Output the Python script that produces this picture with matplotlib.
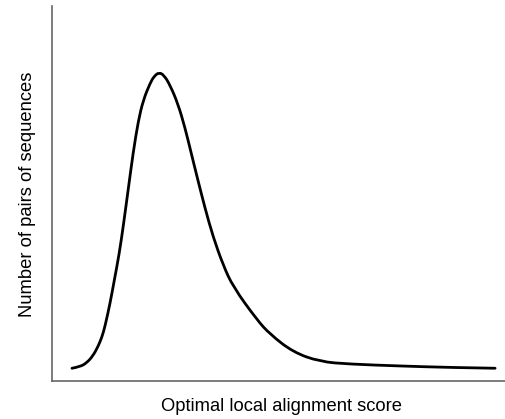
import matplotlib
matplotlib.use("Agg")
import matplotlib.pyplot as plt
from matplotlib.path import Path
from matplotlib.patches import PathPatch

# curve (score axis 0-100, count axis 0-100)
score = [4.4, 6.2, 7.7, 9.0, 10.1, 11.0, 11.7, 12.8, 13.7, 14.8, 15.7,
         16.8, 17.9, 19.0, 20.1, 21.6, 22.5, 23.6, 24.7, 26.0, 27.75,
         29.3, 30.6, 31.9, 33.7, 35.5, 37.7, 39.9, 45.15, 48.0, 53.1,
         59.0, 65.6, 76.7, 87.7, 97.6]
pairs = [3.4, 3.8, 4.9, 6.7, 9.1, 11.7, 14.7, 20.8, 26.7, 33.9, 41.3,
         51.2, 61.1, 69.3, 74.9, 79.4, 81.3, 82.3, 81.5, 78.9, 73.9,
         67.5, 61.1, 54.7, 46.1, 38.4, 30.9, 25.1, 16.3, 12.5, 7.7,
         5.15, 4.5, 4.0, 3.6, 3.4]

dpi = 100
fig = plt.figure(dpi=dpi, figsize=(506 / dpi, 419 / dpi))
ax = fig.add_axes([52 / 506, 1 - 381 / 419, 454 / 506, 375 / 419])

# smooth the read points with quadratic bezier segments (midpoint rule)
verts = [(score[0], pairs[0])]
codes = [Path.MOVETO]
for i in range(1, len(score) - 1):
    verts += [(score[i], pairs[i]),
              ((score[i] + score[i + 1]) / 2, (pairs[i] + pairs[i + 1]) / 2)]
    codes += [Path.CURVE3, Path.CURVE3]
verts[-1] = (score[-1], pairs[-1])
ax.add_patch(PathPatch(Path(verts, codes), facecolor='none',
                       edgecolor='black', linewidth=2.0, capstyle='round'))

ax.set_xlim(0, 100)
ax.set_ylim(0, 100)
ax.set_xticks([])
ax.set_yticks([])
for s in ['top', 'right']:
    ax.spines[s].set_visible(False)
for s in ['left', 'bottom']:
    ax.spines[s].set_color('#666666')
    ax.spines[s].set_linewidth(1.2)

fig.text(282 / 506, 1 - 406 / 419, 'Optimal local alignment score',
         ha='center', va='center', fontsize=13.2, family='Liberation Sans')
fig.text(28 / 506, 1 - 194 / 419, 'Number of pairs of sequences',
         ha='center', va='center', rotation=90, fontsize=13.2,
         family='Liberation Sans')

fig.savefig('out.png', dpi=dpi)
